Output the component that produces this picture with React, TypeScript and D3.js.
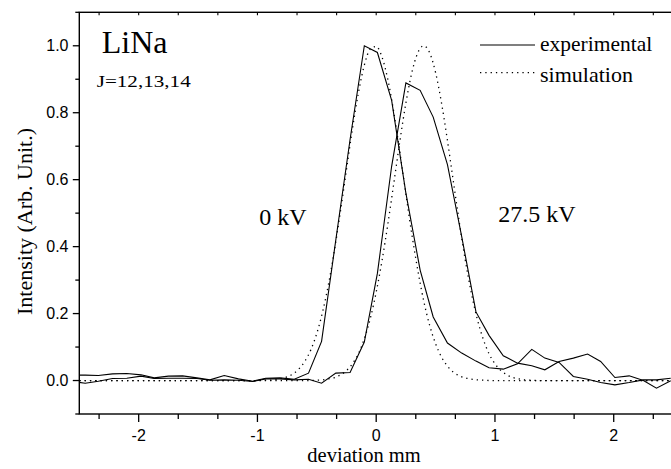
import * as d3 from "d3";

// experimental scan positions (mm), shared by both voltages
const expX = [
  -2.57, -2.45, -2.34, -2.22, -2.1, -1.98, -1.87, -1.75, -1.63, -1.51, -1.4,
  -1.28, -1.16, -1.04, -0.93, -0.81, -0.69, -0.57, -0.46, -0.34, -0.22, -0.1,
  0.01, 0.13, 0.25, 0.37, 0.48, 0.6, 0.72, 0.84, 0.95, 1.07, 1.19, 1.31, 1.42,
  1.54, 1.66, 1.78, 1.89, 2.01, 2.13, 2.25, 2.36, 2.48,
];
const exp0kV = [
  0.016, 0.016, 0.015, 0.02, 0.021, 0.017, 0.008, 0.013, 0.014, 0.008, 0.002,
  0.015, 0.005, -0.002, 0.007, 0.008, 0.004, 0.022, 0.117, 0.42, 0.72, 1.0,
  0.98, 0.837, 0.56, 0.33, 0.19, 0.112, 0.082, 0.058, 0.038, 0.034, 0.05, 0.093,
  0.067, 0.054, 0.012, 0.004, -0.006, -0.013, -0.006, 0.002, 0.002, 0.007,
];
const exp275kV = [
  -0.002, -0.008, -0.002, 0.006, 0.007, 0.013, 0.006, 0.007, 0.007, 0.006, 0.001,
  0.002, 0.001, -0.003, 0.005, 0.005, 0.002, 0.004, -0.008, 0.022, 0.024, 0.115,
  0.32, 0.64, 0.889, 0.867, 0.787, 0.645, 0.43, 0.205, 0.135, 0.074, 0.052,
  0.044, 0.032, 0.057, 0.067, 0.079, 0.057, 0.009, 0.014, 0.0, -0.023, -0.001,
];

// simulated profiles
const simX = [
  -2.5, -1.0, -0.95, -0.9, -0.85, -0.8, -0.75, -0.7, -0.65, -0.6, -0.55, -0.5,
  -0.45, -0.4, -0.35, -0.3, -0.25, -0.2, -0.15, -0.1, -0.05, 0.0, 0.05, 0.1,
  0.15, 0.2, 0.25, 0.3, 0.35, 0.4, 0.45, 0.5, 0.55, 0.6, 0.65, 0.7, 0.75, 0.8,
  0.85, 0.9, 0.95, 1.0, 1.05, 1.1, 1.15, 1.2, 1.25, 1.3, 1.35, 1.4, 2.5,
];
const sim0kV = [
  0, 0.0, 0.001, 0.001, 0.003, 0.006, 0.011, 0.02, 0.035, 0.058, 0.092, 0.141,
  0.207, 0.291, 0.393, 0.508, 0.631, 0.752, 0.859, 0.942, 0.99, 0.998, 0.965,
  0.896, 0.797, 0.68, 0.557, 0.437, 0.33, 0.238, 0.165, 0.11, 0.07, 0.043,
  0.025, 0.014, 0.008, 0.004, 0.002, 0.001, 0.0, 0.0, 0.0, 0.0, 0.0, 0.0, 0.0,
  0.0, 0.0, 0.0, 0,
];
const sim275kV = [
  0, 0.0, 0.0, 0.0, 0.0, 0.0, 0.0, 0.0, 0.0, 0.0, 0.0, 0.001, 0.002, 0.005,
  0.009, 0.017, 0.03, 0.05, 0.08, 0.125, 0.185, 0.264, 0.36, 0.472, 0.594,
  0.717, 0.829, 0.92, 0.979, 1.0, 0.979, 0.92, 0.829, 0.717, 0.594, 0.472,
  0.36, 0.264, 0.185, 0.125, 0.08, 0.05, 0.03, 0.017, 0.009, 0.005, 0.002,
  0.001, 0.0, 0.0, 0,
];

const xMajor = [-2, -1, 0, 1, 2];
const xMajorLabels = ["-2", "-1", "0", "1", "2"];
const yMajor = [0, 0.2, 0.4, 0.6, 0.8, 1.0];

const W = 671;
const H = 469;
const serif = "'Liberation Serif', 'Times New Roman', serif";
const sans = "'Liberation Sans', Arial, sans-serif";

export default function App() {
  const x = d3.scaleLinear().domain([-2.5, 2.5]).range([79.3, 673.1]);
  const y = d3.scaleLinear().domain([-0.1, 1.1]).range([414, 12.3]);
  const [x0, x1] = x.range();
  const [yb, yt] = y.range();

  const xMinor = d3.range(-7, 8).map((k) => k / 3).filter((v) => v >= -2.5 && v <= 2.5);
  const yMinor = d3.range(-1, 12).map((k) => k / 10);

  const line = d3
    .line<number>()
    .x((_, i) => x(expX[i]))
    .y((d) => y(d));
  const simLine = d3
    .line<number>()
    .x((_, i) => x(simX[i]))
    .y((d) => y(d))
    .curve(d3.curveMonotoneX);

  const dots = "1.3 4";

  return (
    <svg
      width={W}
      height={H}
      viewBox={`0 0 ${W} ${H}`}
      style={{ position: "absolute", left: 0, top: 0, background: "#fff" }}
    >
      <defs>
        <clipPath id="plot">
          <rect x={x0} y={yt} width={x1 - x0} height={yb - yt} />
        </clipPath>
      </defs>

      <g clipPath="url(#plot)" fill="none" stroke="#000">
        <path d={simLine(sim0kV) ?? ""} strokeWidth={1.3} strokeDasharray={dots} />
        <path d={simLine(sim275kV) ?? ""} strokeWidth={1.3} strokeDasharray={dots} />
        <path d={line(exp0kV) ?? ""} strokeWidth={1.1} />
        <path d={line(exp275kV) ?? ""} strokeWidth={1.1} />
      </g>

      {/* frame */}
      <rect x={x0} y={yt} width={x1 - x0} height={yb - yt} fill="none" stroke="#000" strokeWidth={1.4} />

      {/* bottom axis ticks (outward) */}
      {xMinor.map((t) => {
        const major = Math.abs(t - Math.round(t)) < 1e-6;
        return (
          <line key={`xb${t}`} x1={x(t)} x2={x(t)} y1={yb} y2={yb + (major ? 8 : 5)} stroke="#000" strokeWidth={1.3} />
        );
      })}
      {/* top axis ticks (inward) */}
      {xMinor.map((t) => (
        <line key={`xt${t}`} x1={x(t)} x2={x(t)} y1={yt} y2={yt + 3} stroke="#000" strokeWidth={1.1} />
      ))}
      {/* left axis ticks (outward) */}
      {yMinor.map((t) => {
        const major = Math.abs(t * 5 - Math.round(t * 5)) < 1e-6;
        return (
          <line key={`y${t}`} x1={x0} x2={x0 - (major ? 6.5 : 4)} y1={y(t)} y2={y(t)} stroke="#000" strokeWidth={1.3} />
        );
      })}

      {xMajor.map((t, i) => (
        <text key={`xl${t}`} x={x(t)} y={441} textAnchor="middle" fontFamily={sans} fontSize={16} fill="#000">
          {xMajorLabels[i]}
        </text>
      ))}
      {yMajor.map((t) => (
        <text key={`yl${t}`} x={68.5} y={y(t) + 5.6} textAnchor="end" fontFamily={sans} fontSize={16} fill="#000">
          {d3.format(".1f")(t)}
        </text>
      ))}

      <text x={364} y={462} textAnchor="middle" fontFamily={serif} fontSize={20.5} fill="#000">
        deviation mm
      </text>
      <text
        transform="translate(31.5,221.5) rotate(-90)"
        textAnchor="middle"
        fontFamily={serif}
        fontSize={22}
        fill="#000"
      >
        Intensity (Arb. Unit.)
      </text>

      <text x={101.7} y={53.3} fontFamily={serif} fontSize={32} fill="#000">
        LiNa
      </text>
      <text x={96.7} y={87.3} fontFamily={serif} fontSize={17} textLength={94} lengthAdjust="spacingAndGlyphs" fill="#000">
        J=12,13,14
      </text>
      <text x={259.3} y={225} fontFamily={serif} fontSize={24} fill="#000">
        0 kV
      </text>
      <text x={498.3} y={222} fontFamily={serif} fontSize={24} fill="#000">
        27.5 kV
      </text>

      {/* legend */}
      <line x1={480} x2={535} y1={45} y2={45} stroke="#000" strokeWidth={1.1} />
      <text x={540} y={50.7} fontFamily={serif} fontSize={21.5} fill="#000">
        experimental
      </text>
      <line x1={480} x2={535} y1={72.7} y2={72.7} stroke="#000" strokeWidth={1.3} strokeDasharray={dots} />
      <text x={540} y={81.7} fontFamily={serif} fontSize={22} fill="#000">
        simulation
      </text>
    </svg>
  );
}
